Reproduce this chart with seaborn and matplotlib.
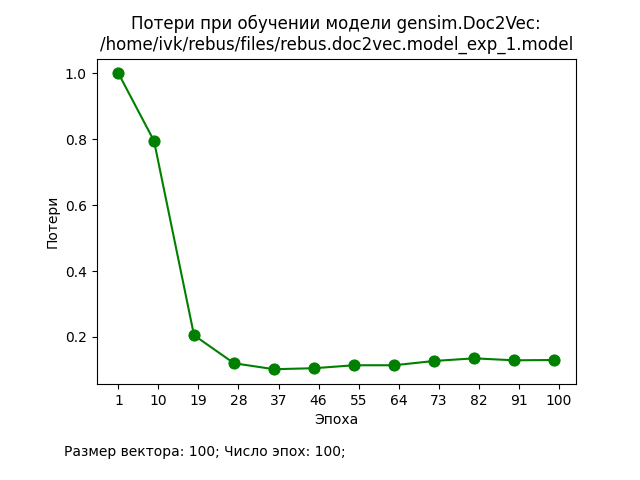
import matplotlib
matplotlib.use("Agg")
import matplotlib.pyplot as plt
import seaborn as sns
import pandas as pd

epochs = [1, 9, 18, 27, 36, 45, 54, 63, 72, 81, 90, 99]
losses = [1.0, 0.795, 0.205, 0.120, 0.102, 0.105, 0.114, 0.114, 0.127, 0.135, 0.129, 0.130]
tick_positions = [1, 10, 19, 28, 37, 46, 55, 64, 73, 82, 91, 100]
tick_labels = ["1", "10", "19", "28", "37", "46", "55", "64", "73", "82", "91", "100"]
title = "Потери при обучении модели gensim.Doc2Vec:\n/home/ivk/rebus/files/rebus.doc2vec.model_exp_1.model"
note = "Размер вектора: 100; Число эпох: 100;"

df = pd.DataFrame({"Эпоха": epochs, "Потери": losses})

fig, ax = plt.subplots(figsize=(6.4, 4.8), dpi=100)
fig.subplots_adjust(left=0.151, right=0.9, top=0.878, bottom=0.2)
sns.lineplot(data=df, x="Эпоха", y="Потери", color="green", ax=ax,
             marker="o", markersize=8, markeredgecolor="green", linewidth=1.5)
ax.set_xticks(tick_positions)
ax.set_xticklabels(tick_labels)
ax.set_title(title, fontsize=12)
ax.set_xlabel("Эпоха")
ax.set_ylabel("Потери")
fig.text(0.1, 0.05, note, fontsize=10)
fig.savefig("out.png", dpi=100)
